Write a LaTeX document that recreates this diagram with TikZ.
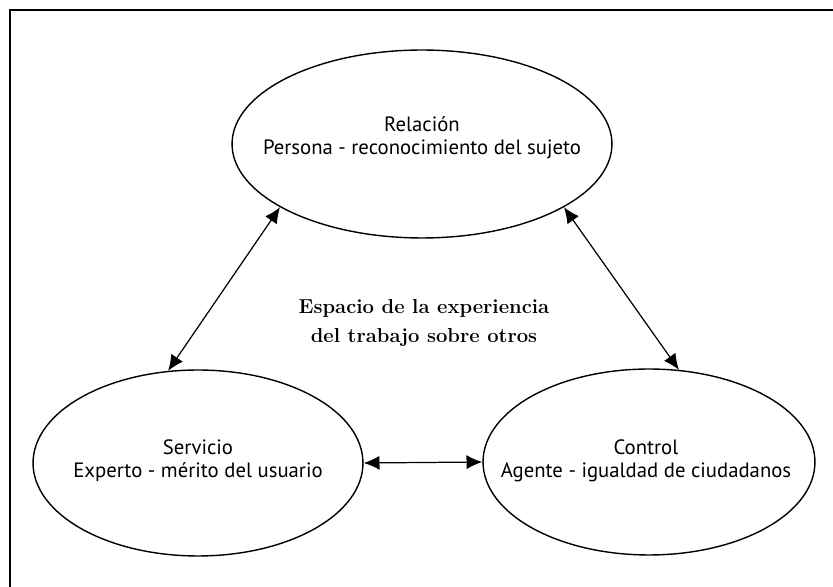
\documentclass[tikz,border=0pt]{standalone}
\usepackage{fontspec}
\newfontfamily\cuerpo{PT Sans}
\usetikzlibrary{shapes.geometric}
\usetikzlibrary{arrows.meta}

\tikzset{
  esfera/.style={draw, ellipse, line width=0.8pt, inner sep=0pt},
  rotulo/.style={align=center, font=\cuerpo\fontsize{11.8}{13.2}\selectfont},
  enlace/.style={{Latex[length=9pt,width=8pt]}-{Latex[length=9pt,width=8pt]}, line width=0.7pt},
}

\begin{document}
\begin{tikzpicture}[x=0.02cm,y=-0.02cm]
    \useasboundingbox (0,0) rectangle (833,587);
    \draw[line width=1.1pt] (10,587) -- (10,10) -- (833,10);

    \node[esfera, minimum width=7.6cm, minimum height=3.76cm] (relacion) at (422,144) {};
    \node[esfera, minimum width=6.6cm, minimum height=3.72cm] (servicio) at (198,463) {};
    \node[esfera, minimum width=6.64cm, minimum height=3.72cm] (control) at (649,462) {};

    \node[rotulo] (trelacion) at (422,138) {Relación\\Persona - reconocimiento del sujeto};
    \node[rotulo] (tservicio) at (198,461) {Servicio\\Experto - mérito del usuario};
    \node[rotulo] (tcontrol) at (646,461) {Control\\Agente - igualdad de ciudadanos};

    \node[align=center, font=\addfontfeatures{LetterSpace=5}\bfseries\fontsize{11.5}{16}\selectfont] (espacio) at (424,323)
        {Espacio de la experiencia\\del trabajo sobre otros};

    \draw[enlace] (relacion.204) -- (servicio.108);
    \draw[enlace] (relacion.336) -- (control.72);
    \draw[enlace] (servicio.east) -- (control.west);
\end{tikzpicture}
\end{document}
